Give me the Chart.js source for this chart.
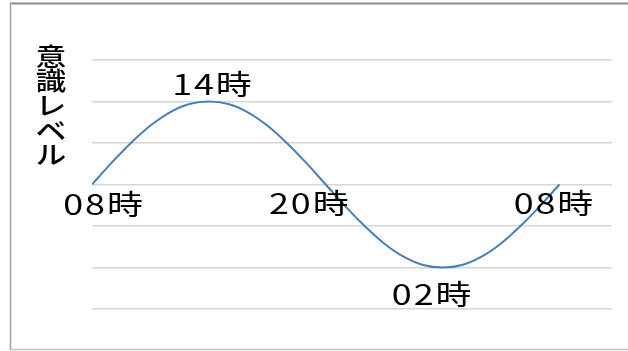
<!DOCTYPE html>
<html>
<head>
<meta charset="utf-8">
<script src="https://cdn.jsdelivr.net/npm/chart.js@4/dist/chart.umd.min.js"></script>
<style>
  html, body { margin: 0; padding: 0; background: #ffffff; }
  #wrap { width: 628px; height: 351px; position: relative; }
</style>
</head>
<body>
<div id="wrap"><canvas id="c" width="628" height="351"></canvas></div>
<script>
// Hours elapsed since 08:00, one sample per hour over a full day
const hours = [0, 1, 2, 3, 4, 5, 6, 7, 8, 9, 10, 11, 12,
               13, 14, 15, 16, 17, 18, 19, 20, 21, 22, 23, 24];
// Consciousness level (relative units)
const level = [0, 0.26, 0.5, 0.71, 0.87, 0.97, 1, 0.97, 0.87, 0.71, 0.5, 0.26, 0,
               -0.26, -0.5, -0.71, -0.87, -0.97, -1, -0.97, -0.87, -0.71, -0.5, -0.26, 0];
// Clock-time annotations and the samples they belong to
const clockLabels = ['08時', '14時', '20時', '02時', '08時'];
const clockIndex = [0, 6, 12, 18, 24];
// Where each annotation sits relative to its point (px)
const labelOffset = [[12, 20], [4, -17], [-16, 19], [-10, 27], [-5, 19]];
const axisTitle = '意識レベル';

const points = hours.map((h, i) => ({ x: h, y: level[i] }));

const frame = {
  id: 'frame',
  beforeDraw(chart) {
    const ctx = chart.ctx;
    ctx.save();
    ctx.fillStyle = '#ffffff';
    ctx.fillRect(0, 0, chart.width, chart.height);
    ctx.lineWidth = 2;
    ctx.strokeStyle = '#8a8a8a';
    ctx.beginPath();
    ctx.moveTo(10, 3.5); ctx.lineTo(628, 3.5);
    ctx.stroke();
    ctx.lineWidth = 1.5;
    ctx.strokeStyle = '#a0a0a0';
    ctx.beginPath();
    ctx.moveTo(10.5, 3); ctx.lineTo(10.5, 350);
    ctx.stroke();
    ctx.strokeStyle = '#c4c4c4';
    ctx.beginPath();
    ctx.moveTo(10, 349.5); ctx.lineTo(628, 349.5);
    ctx.stroke();
    ctx.restore();
  }
};

function stretchedText(ctx, text, cx, cy, sx) {
  ctx.save();
  ctx.translate(cx, cy);
  ctx.scale(sx, 1);
  ctx.fillText(text, 0, 0);
  ctx.restore();
}

const annotations = {
  id: 'annotations',
  afterDatasetsDraw(chart) {
    const ctx = chart.ctx;
    const meta = chart.getDatasetMeta(0);
    ctx.save();
    ctx.fillStyle = '#000000';
    ctx.textAlign = 'center';
    ctx.textBaseline = 'middle';
    ctx.font = '28px "Noto Sans CJK JP"';
    ctx.letterSpacing = '1.5px';
    clockLabels.forEach((t, k) => {
      const p = meta.data[clockIndex[k]];
      stretchedText(ctx, t, p.x + labelOffset[k][0], p.y + labelOffset[k][1], 1.28);
    });
    ctx.letterSpacing = '0px';
    ctx.font = '500 25px "Noto Sans CJK JP"';
    const chars = Array.from(axisTitle);
    chars.forEach((ch, i) => {
      stretchedText(ctx, ch, 51, 56 + i * 24.7, 1.22);
    });
    ctx.restore();
  }
};

new Chart(document.getElementById('c'), {
  type: 'line',
  data: {
    datasets: [{
      data: points,
      borderColor: '#4a7ebb',
      borderWidth: 2,
      pointRadius: 0,
      fill: false,
      cubicInterpolationMode: 'monotone'
    }]
  },
  options: {
    responsive: false,
    animation: false,
    layout: { padding: { left: 92, right: 16, top: 60, bottom: 42 } },
    plugins: { legend: { display: false }, tooltip: { enabled: false } },
    scales: {
      x: { type: 'linear', min: 0, max: 26.7, display: false },
      y: {
        min: -1.5, max: 1.5,
        ticks: { display: false, stepSize: 0.5 },
        grid: { color: '#d6d6d6', lineWidth: 1.5, drawTicks: false },
        border: { display: false }
      }
    }
  },
  plugins: [frame, annotations]
});
</script>
</body>
</html>
